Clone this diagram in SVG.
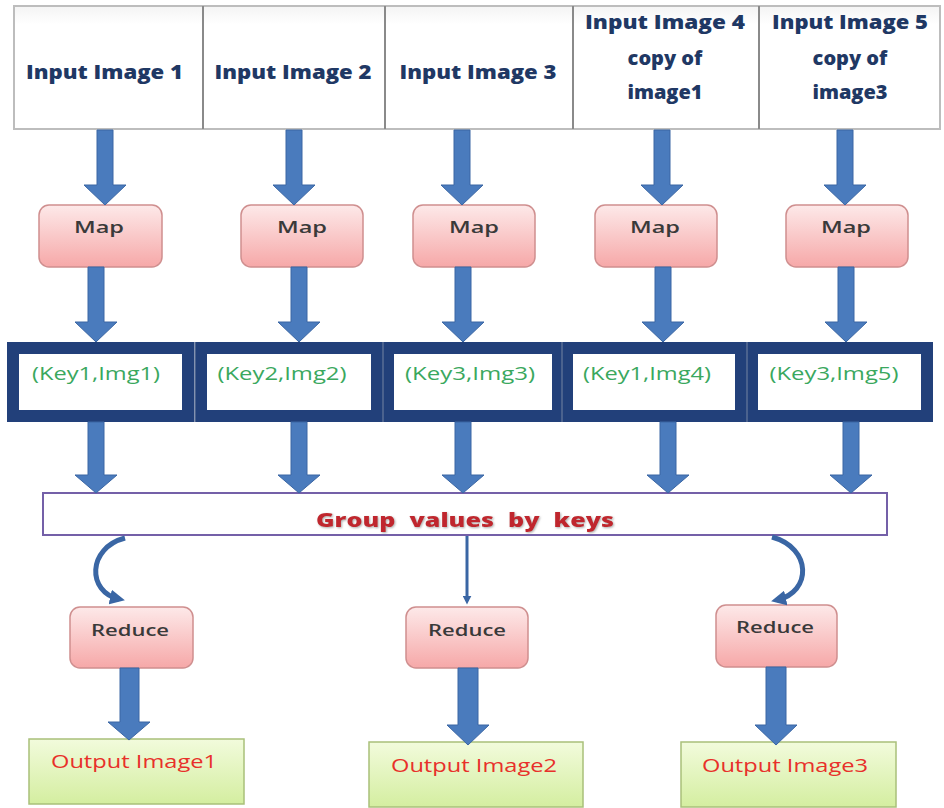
<svg xmlns="http://www.w3.org/2000/svg" width="944" height="808" viewBox="0 0 944 808">
<defs>
<linearGradient id="pink" x1="0" y1="0" x2="0" y2="1"><stop offset="0" stop-color="#fde9e9"/><stop offset="1" stop-color="#f6a8a8"/></linearGradient>
<linearGradient id="green" x1="0" y1="0" x2="0" y2="1"><stop offset="0" stop-color="#f2fbdc"/><stop offset="1" stop-color="#d4eea0"/></linearGradient>
<linearGradient id="cell" x1="0" y1="0" x2="0" y2="1"><stop offset="0" stop-color="#f4f4f4"/><stop offset="0.15" stop-color="#ffffff"/><stop offset="1" stop-color="#ffffff"/></linearGradient>
<marker id="ah2" viewBox="0 0 10 10" refX="6" refY="5" markerWidth="3" markerHeight="3" orient="auto"><path d="M0,0 L10,5 L0,10 Z" fill="#3a66a4"/></marker>
<filter id="sh" x="-10%" y="-30%" width="120%" height="160%"><feDropShadow dx="1" dy="1" stdDeviation="1" flood-color="#999" flood-opacity="0.8"/></filter>
</defs>
<style>
.cell{fill:url(#cell);stroke:#bdbdbd;stroke-width:2}
.div{stroke:#7a7a7a;stroke-width:1.5}
.in{font-family:"Open Sans","Liberation Sans",sans-serif;font-weight:800;font-size:20px;fill:#1f3864;text-anchor:middle}
.map{fill:url(#pink);stroke:#cf8f8f;stroke-width:1.5}
.mt{font-family:"Open Sans","Liberation Sans",sans-serif;font-weight:600;font-size:17px;fill:#3a3a3a;text-anchor:middle}
.key{fill:#ffffff;stroke:#22407a;stroke-width:12}
.sep{stroke:#5a6e96;stroke-width:1.5}
.kt{font-family:"Open Sans","Liberation Sans",sans-serif;font-weight:500;font-size:19px;fill:#3aa85e;text-anchor:middle}
.arr{fill:#4a7bbd;stroke:#3a66a4;stroke-width:1}
.grp{fill:#ffffff;stroke:#7460a8;stroke-width:2}
.gt{font-family:"Open Sans","Liberation Sans",sans-serif;font-weight:800;font-size:20px;fill:#c0282d;text-anchor:middle}
.out{fill:url(#green);stroke:#a9c07a;stroke-width:1.5}
.ot{font-family:"Open Sans","Liberation Sans",sans-serif;font-weight:400;font-size:18px;fill:#e8302a;text-anchor:middle}
.cv{fill:none;stroke:#3a66a4;stroke-width:5}
</style>

<g id="input1"><rect class="cell" x="14" y="6" width="189" height="123"/><text class="in" x="104.5" y="79" textLength="157" lengthAdjust="spacingAndGlyphs">Input Image 1</text></g>
<g id="input2"><rect class="cell" x="203" y="6" width="182" height="123"/><text class="in" x="293" y="79" textLength="157" lengthAdjust="spacingAndGlyphs">Input Image 2</text></g>
<g id="input3"><rect class="cell" x="385" y="6" width="188" height="123"/><text class="in" x="478" y="79" textLength="157" lengthAdjust="spacingAndGlyphs">Input Image 3</text></g>
<g id="input4"><rect class="cell" x="573" y="6" width="186" height="123"/><text class="in" x="665" y="29" textLength="160" lengthAdjust="spacingAndGlyphs">Input Image 4</text><text class="in" x="665" y="65">copy of</text><text class="in" x="665" y="99">image1</text></g>
<g id="input5"><rect class="cell" x="759" y="6" width="181" height="123"/><text class="in" x="850" y="29" textLength="156" lengthAdjust="spacingAndGlyphs">Input Image 5</text><text class="in" x="850" y="65">copy of</text><text class="in" x="850" y="99">image3</text></g>
<g id="dividers"><line class="div" x1="203" y1="6" x2="203" y2="129"/><line class="div" x1="385" y1="6" x2="385" y2="129"/><line class="div" x1="573" y1="6" x2="573" y2="129"/><line class="div" x1="759" y1="6" x2="759" y2="129"/></g>

<g id="map1"><rect class="map" x="39" y="205" width="123" height="62" rx="10"/><text class="mt" x="99" y="233" textLength="50" lengthAdjust="spacingAndGlyphs">Map</text></g>
<g id="map2"><rect class="map" x="241" y="205" width="122" height="62" rx="10"/><text class="mt" x="302" y="233" textLength="50" lengthAdjust="spacingAndGlyphs">Map</text></g>
<g id="map3"><rect class="map" x="413" y="205" width="122" height="62" rx="10"/><text class="mt" x="474" y="233" textLength="50" lengthAdjust="spacingAndGlyphs">Map</text></g>
<g id="map4"><rect class="map" x="595" y="205" width="122" height="62" rx="10"/><text class="mt" x="655" y="233" textLength="50" lengthAdjust="spacingAndGlyphs">Map</text></g>
<g id="map5"><rect class="map" x="786" y="205" width="122" height="62" rx="10"/><text class="mt" x="846" y="233" textLength="50" lengthAdjust="spacingAndGlyphs">Map</text></g>

<g id="key1"><rect class="key" x="13" y="348" width="175" height="68"/><text class="kt" x="96" y="380" textLength="128" lengthAdjust="spacingAndGlyphs">(Key1,Img1)</text></g>
<g id="key2"><rect class="key" x="201" y="348" width="176" height="68"/><text class="kt" x="282" y="380" textLength="129" lengthAdjust="spacingAndGlyphs">(Key2,Img2)</text></g>
<g id="key3"><rect class="key" x="388" y="348" width="170" height="68"/><text class="kt" x="470" y="380" textLength="130" lengthAdjust="spacingAndGlyphs">(Key3,Img3)</text></g>
<g id="key4"><rect class="key" x="567" y="348" width="174" height="68"/><text class="kt" x="647" y="380" textLength="128" lengthAdjust="spacingAndGlyphs">(Key1,Img4)</text></g>
<g id="key5"><rect class="key" x="752" y="348" width="175" height="68"/><text class="kt" x="834" y="380" textLength="129" lengthAdjust="spacingAndGlyphs">(Key3,Img5)</text></g>
<g id="keyseps"><line class="sep" x1="195" y1="342" x2="195" y2="422"/><line class="sep" x1="383" y1="342" x2="383" y2="422"/><line class="sep" x1="562" y1="342" x2="562" y2="422"/><line class="sep" x1="747" y1="342" x2="747" y2="422"/></g>

<g id="group"><rect class="grp" x="43" y="493" width="844" height="42"/><text class="gt" x="465" y="527" filter="url(#sh)" textLength="298" lengthAdjust="spacingAndGlyphs" word-spacing="6">Group values by keys</text></g>

<g id="reduce1"><rect class="map" x="70" y="607" width="123" height="61" rx="10"/><text class="mt" x="130" y="636" font-size="16" textLength="78" lengthAdjust="spacingAndGlyphs">Reduce</text></g>
<g id="reduce2"><rect class="map" x="406" y="607" width="122" height="61" rx="10"/><text class="mt" x="467" y="636" font-size="16" textLength="78" lengthAdjust="spacingAndGlyphs">Reduce</text></g>
<g id="reduce3"><rect class="map" x="716" y="605" width="121" height="62" rx="10"/><text class="mt" x="775" y="633" font-size="16" textLength="78" lengthAdjust="spacingAndGlyphs">Reduce</text></g>

<g id="output1"><rect class="out" x="29" y="739" width="215" height="65"/><text class="ot" x="134" y="768" textLength="166" lengthAdjust="spacingAndGlyphs">Output Image1</text></g>
<g id="output2"><rect class="out" x="369" y="742" width="214" height="65"/><text class="ot" x="474" y="772" textLength="166" lengthAdjust="spacingAndGlyphs">Output Image2</text></g>
<g id="output3"><rect class="out" x="681" y="742" width="215" height="65"/><text class="ot" x="785" y="772" textLength="166" lengthAdjust="spacingAndGlyphs">Output Image3</text></g>

<g id="connectors">
<path class="arr" d="M97,130 H113 V185 H126 L105,205 L84,185 H97 Z"/>
<path class="arr" d="M286,130 H302 V185 H315 L294,205 L273,185 H286 Z"/>
<path class="arr" d="M454,130 H470 V185 H483 L462,205 L441,185 H454 Z"/>
<path class="arr" d="M654,130 H670 V185 H683 L662,205 L641,185 H654 Z"/>
<path class="arr" d="M837,130 H853 V185 H866 L845,205 L824,185 H837 Z"/>

<path class="arr" d="M88,267 H104 V322 H117 L96,342 L75,322 H88 Z"/>
<path class="arr" d="M291,267 H307 V322 H320 L299,342 L278,322 H291 Z"/>
<path class="arr" d="M455,267 H471 V322 H484 L463,342 L442,322 H455 Z"/>
<path class="arr" d="M655,267 H671 V322 H684 L663,342 L642,322 H655 Z"/>
<path class="arr" d="M838,267 H854 V322 H867 L846,342 L825,322 H838 Z"/>

<path class="arr" d="M88,422 H104 V475 H117 L96,493 L75,475 H88 Z"/>
<path class="arr" d="M291,422 H307 V475 H320 L299,493 L278,475 H291 Z"/>
<path class="arr" d="M455,422 H471 V475 H484 L463,493 L442,475 H455 Z"/>
<path class="arr" d="M660,422 H676 V475 H689 L668,493 L647,475 H660 Z"/>
<path class="arr" d="M843,422 H859 V475 H872 L851,493 L830,475 H843 Z"/>

<path class="cv" d="M125,538 C87,548 87,592 119,599" marker-end="url(#ah2)"/>
<line x1="467" y1="536" x2="467" y2="601" stroke="#3a66a4" stroke-width="3" marker-end="url(#ah2)"/>
<path class="cv" d="M772,537 C812,548 812,592 777,600" marker-end="url(#ah2)"/>

<path class="arr" d="M120,668 H139 V722 H150 L129,740 L108,722 H120 Z"/>
<path class="arr" d="M458,668 H478 V725 H489 L468,745 L447,725 H458 Z"/>
<path class="arr" d="M766,667 H786 V725 H797 L776,745 L755,725 H766 Z"/>
</g>
</svg>
